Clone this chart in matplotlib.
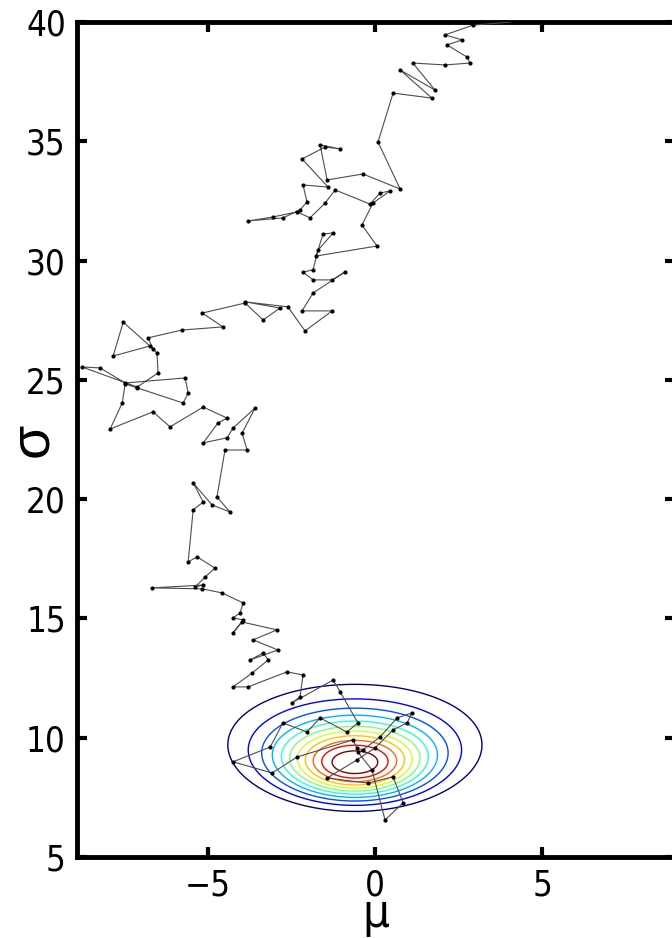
import numpy as np
import matplotlib
matplotlib.use("Agg")
import matplotlib.pyplot as plt
from matplotlib import font_manager

# narrow sans for the axis text, if one is installed
installed = font_manager.fontManager.ttflist
names = {f.name for f in installed}
stretch = 'normal'
narrow = next((c for c in ['Liberation Sans Narrow', 'DejaVu Sans Condensed', 'Arial Narrow']
               if c in names), None)
if narrow is None:
    cond = [f.name for f in installed
            if f.stretch in ('condensed', 'semi-condensed') and 'Mono' not in f.name
            and 'Serif' not in f.name]
    if cond:
        narrow, stretch = cond[0], 'condensed'
    else:
        narrow = 'Liberation Sans'
plt.rcParams['font.family'] = [narrow, 'Liberation Sans', 'DejaVu Sans']
plt.rcParams['font.stretch'] = stretch

# Metropolis chain for (mu, sigma), starting far out and drifting into the posterior
mu = [4.09, 2.93, 2.09, 2.60, 2.15, 2.75, 2.84, 2.09, 1.13, 1.79,
      0.75, 1.70, 0.54, 0.09, 0.75, -0.36, -1.43, -1.64, -1.04, -1.49,
      -2.18, -1.40, -2.15, -2.03, -2.24, -2.75, -3.79, -3.04, -2.33, -1.94,
      -1.49, -1.19, -0.15, 0.15, 0.45, -0.06, -0.39, 0.06, -1.76, -1.55,
      -1.25, -1.70, -1.85, -2.15, -1.85, -1.28, -0.90, -1.85, -2.18, -1.28,
      -2.09, -2.60, -3.88, -2.84, -3.34, -3.88, -5.16, -4.54, -5.76, -6.78,
      -6.63, -7.52, -7.82, -6.72, -6.51, -6.48, -7.10, -8.75, -8.21, -7.46,
      -5.67, -5.58, -5.73, -7.10, -7.46, -7.55, -7.91, -6.63, -6.12, -5.13,
      -4.42, -4.69, -5.13, -4.42, -4.24, -3.58, -3.97, -3.82, -4.48, -4.72,
      -4.33, -4.87, -5.43, -5.13, -5.43, -5.58, -5.31, -4.78, -5.07, -5.37,
      -5.13, -6.66, -5.16, -4.57, -3.94, -4.03, -4.24, -3.94, -4.24, -3.97,
      -2.93, -3.64, -2.90, -3.73, -3.34, -3.19, -3.67, -4.24, -3.79, -2.63,
      -2.15, -2.24, -2.48, -1.25, -1.04, -0.51, -0.84, -1.64, -2.03, -2.75,
      -3.13, -4.24, -3.07, -2.33, -0.66, -0.54, -0.36, 0.15, 0.66, 1.10,
      0.96, 0.54, 0.00, -0.54, -1.43, -0.21, 0.54, 0.84, 0.30, -0.09,
      -0.51]
sigma = [40.00, 39.87, 39.46, 39.25, 39.04, 38.53, 38.28, 38.20, 38.28, 37.15,
         37.99, 36.81, 37.02, 34.97, 33.00, 33.63, 33.38, 34.85, 34.68, 34.76,
         34.26, 33.08, 33.17, 32.46, 32.12, 31.79, 31.66, 31.83, 32.04, 31.79,
         32.41, 32.96, 32.37, 32.83, 32.92, 32.41, 31.49, 30.61, 30.19, 31.11,
         31.16, 30.44, 29.61, 29.52, 29.19, 29.19, 29.52, 28.64, 27.89, 27.89,
         27.05, 28.06, 28.27, 28.01, 27.51, 28.22, 27.80, 27.22, 27.09, 26.76,
         26.30, 27.42, 26.00, 26.42, 26.13, 25.29, 24.70, 25.54, 25.50, 24.87,
         25.08, 24.45, 24.03, 24.66, 24.83, 24.03, 22.94, 23.66, 23.03, 23.86,
         23.40, 23.19, 22.36, 22.57, 22.98, 23.82, 22.77, 22.06, 22.06, 20.09,
         19.46, 19.76, 20.68, 19.88, 19.55, 17.37, 17.58, 17.11, 16.74, 16.32,
         16.40, 16.28, 16.24, 16.07, 15.65, 15.23, 15.02, 14.94, 14.39, 14.85,
         14.52, 14.10, 13.68, 13.26, 13.55, 13.26, 12.71, 12.13, 12.13, 12.76,
         12.63, 11.71, 11.46, 12.42, 11.92, 10.62, 10.24, 10.83, 10.24, 10.62,
         9.61, 8.99, 8.52, 9.19, 9.91, 9.57, 9.49, 10.03, 10.83, 11.04,
         10.62, 10.33, 9.57, 9.07, 8.31, 8.10, 8.36, 7.27, 6.55, 8.65,
         9.40]

# data summary used for the posterior contours
n_obs = 30
xbar = -0.6
s_obs = 9.1
n_levels = 11

xticks = [-5, 0, 5]
yticks = [5, 10, 15, 20, 25, 30, 35, 40]

# unnormalised posterior p(mu, sigma | x) with prior 1/sigma
mg, sg = np.meshgrid(np.linspace(-8.9, 8.96, 300), np.linspace(5, 40, 500))
logp = -(n_obs + 1) * np.log(sg) - n_obs * (s_obs**2 + (mg - xbar)**2) / (2 * sg**2)
post = np.exp(logp - logp.max())
levels = np.arange(1, n_levels + 1) / (n_levels + 1)

fig = plt.figure(figsize=(6.72, 9.38), dpi=100)
ax = fig.add_axes([77/672, 81/938, 598/672, 835/938])

ax.contour(mg, sg, post, levels=levels, cmap='jet', linewidths=1.0, zorder=2)
ax.plot(mu, sigma, '-', color='0.3', lw=0.8, marker='.', ms=4,
        mfc='k', mec='k', zorder=3)

ax.set_xlim(-8.9, 8.96)
ax.set_ylim(5, 40)
ax.set_xticks(xticks)
ax.set_yticks(yticks)
ax.set_xticklabels(['\u22125', '0', '5'])
ax.tick_params(direction='in', length=7, width=3, labelsize=25, pad=8,
               top=True, right=True)
for sp in ax.spines.values():
    sp.set_linewidth(3.5)

ax.set_xlabel('\u03bc', fontsize=34)
ax.xaxis.set_label_coords(0.5, -0.042)
ax.set_ylabel('\u03c3', fontsize=40, family=['Liberation Sans', 'DejaVu Sans'],
              stretch='normal')
ax.yaxis.set_label_coords(-0.03, 0.5)

fig.savefig('out.png', dpi=100)
